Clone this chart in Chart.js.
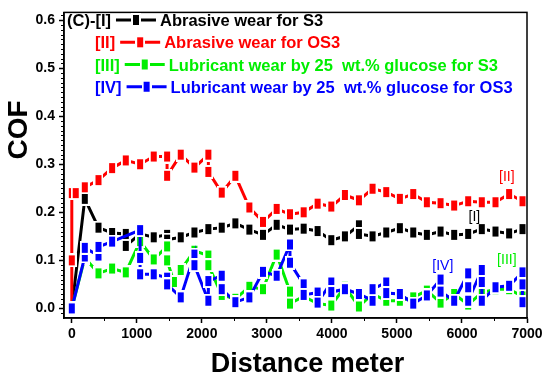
<!DOCTYPE html>
<html><head><meta charset="utf-8">
<script src="https://cdn.jsdelivr.net/npm/chart.js@4/dist/chart.umd.min.js"></script>
<style>html,body{margin:0;padding:0;background:#fff;}canvas{display:block;}</style>
</head><body>
<canvas id="c" width="550" height="381"></canvas>
<script>
// ---- data ----
const distS3Abrasive = [0,200,410,620,830,830,1050,1260,1465,1465,1675,1885,2100,2305,2515,2730,2940,3150,3355,3565,3780,3990,4200,4415,4415,4625,4835,5045,5250,5460,5670,5880,6095,6305,6515,6725,6930];
const cofS3Abrasive  = [0.000,0.228,0.168,0.157,0.155,0.130,0.155,0.148,0.153,0.143,0.148,0.158,0.165,0.168,0.177,0.164,0.153,0.174,0.164,0.166,0.161,0.142,0.150,0.173,0.155,0.150,0.158,0.167,0.158,0.153,0.160,0.153,0.155,0.165,0.160,0.156,0.165];

const distOS3Abrasive = [0,0,0,60,200,410,620,830,1050,1260,1465,1465,1675,1885,2100,2100,2305,2515,2730,2940,3150,3355,3565,3780,3990,4200,4415,4625,4835,5045,5250,5460,5670,5880,6095,6305,6515,6725,6930];
const cofOS3Abrasive  = [0.000,0.100,0.240,0.240,0.252,0.267,0.292,0.308,0.300,0.316,0.316,0.276,0.320,0.293,0.320,0.284,0.241,0.276,0.210,0.180,0.207,0.196,0.200,0.218,0.212,0.236,0.225,0.249,0.242,0.228,0.238,0.221,0.219,0.214,0.223,0.221,0.221,0.238,0.223];

const distS3Lubricant = [0,200,410,620,830,1050,1260,1465,1465,1570,1675,1885,2100,2100,2305,2515,2730,2940,3150,3355,3355,3565,3780,3990,4200,4415,4625,4835,5045,5250,5460,5670,5880,6095,6305,6515,6725,6930];
const cofS3Lubricant  = [0.000,0.105,0.073,0.083,0.075,0.140,0.102,0.129,0.100,0.055,0.080,0.120,0.110,0.090,0.028,0.020,0.045,0.040,0.112,0.035,0.010,0.025,0.010,0.006,0.045,0.004,0.030,0.016,0.016,0.023,0.037,0.012,0.030,0.008,0.033,0.040,0.040,0.025];

const distOS3Lubricant = [0,200,200,410,410,620,1050,1050,1050,1260,1465,1465,1675,1885,1885,2100,2100,2305,2305,2515,2730,2940,3150,3355,3355,3565,3565,3780,3780,3990,3990,4200,4415,4625,4625,4835,4835,5045,5250,5460,5670,5670,5880,6095,6095,6095,6305,6305,6305,6515,6725,6930,6930,6930];
const cofOS3Lubricant  = [0.000,0.108,0.126,0.110,0.128,0.139,0.163,0.105,0.071,0.071,0.064,0.050,0.023,0.112,0.090,0.016,0.057,0.068,0.040,0.013,0.023,0.076,0.068,0.133,0.095,0.050,0.028,0.033,0.012,0.054,0.034,0.040,0.030,0.016,0.040,0.054,0.032,0.030,0.010,0.027,0.060,0.035,0.016,0.073,0.044,0.016,0.080,0.055,0.016,0.044,0.047,0.075,0.050,0.013];

const xTickValues = [0,1000,2000,3000,4000,5000,6000,7000];
const yTickValues = [0,0.1,0.2,0.3,0.4,0.5,0.6];
const seriesTags  = ['[I]','[II]','[III]','[IV]'];
const seriesNames = ['Abrasive wear for S3','Abrasive wear for OS3','Lubricant wear by 25  wt.% glucose for S3','Lubricant wear by 25  wt.% glucose for OS3'];
const legendPrefix = '(C)-';
const xTitle = 'Distance meter';
const yTitle = 'COF';
// in-plot tag labels, placed at data coordinates
const tagX = [6190, 6690, 6690, 5705];
const tagY = [0.189, 0.273, 0.101, 0.088];

// ---- styles ----
const COLORS = ['#000000', '#ff0000', '#00ee00', '#0000ff'];
const FONT = '"Liberation Sans", Arial, Helvetica, sans-serif';

function makeMarker(color) {
  const c = document.createElement('canvas');
  c.width = 10; c.height = 14;
  const g = c.getContext('2d');
  g.fillStyle = '#ffffff'; g.fillRect(0, 0, 10, 14);
  g.fillStyle = color; g.fillRect(2, 2, 6, 10);
  return c;
}
const MARKERS = COLORS.map(makeMarker);

function pts(xs, ys) { return xs.map((x, i) => ({ x: x, y: ys[i] })); }

const seriesData = [
  pts(distS3Abrasive, cofS3Abrasive),
  pts(distOS3Abrasive, cofOS3Abrasive),
  pts(distS3Lubricant, cofS3Lubricant),
  pts(distOS3Lubricant, cofOS3Lubricant)
];
const drawOrder = [3, 2, 1, 0];

const datasets = seriesData.map((d, i) => ({
  label: seriesTags[i] + ' ' + seriesNames[i],
  data: d,
  borderColor: COLORS[i],
  backgroundColor: COLORS[i],
  borderWidth: 3,
  pointStyle: MARKERS[i],
  pointRadius: 4,
  pointHoverRadius: 4,
  tension: 0,
  fill: false,
  order: drawOrder[i]
}));

const decorPlugin = {
  id: 'decor',
  afterDraw(chart) {
    const ctx = chart.ctx;
    const a = chart.chartArea;
    const xs = chart.scales.x, ys = chart.scales.y;
    ctx.save();
    // frame
    ctx.strokeStyle = '#000'; ctx.lineWidth = 1.5;
    ctx.strokeRect(a.left, a.top, a.right - a.left, a.bottom - a.top);
    // minor ticks
    ctx.lineWidth = 1;
    ctx.beginPath();
    for (let v = 500; v < 7000; v += 1000) {
      const p = Math.round(xs.getPixelForValue(v)) + 0.5;
      ctx.moveTo(p, a.bottom); ctx.lineTo(p, a.bottom + 3);
    }
    for (let k = -1; k <= 61; k++) {
      if (k % 10 === 0) continue;
      const p = Math.round(ys.getPixelForValue(k / 100)) + 0.5;
      if (p < a.top || p > a.bottom) continue;
      ctx.moveTo(a.left, p); ctx.lineTo(a.left - 3, p);
    }
    ctx.stroke();

    // legend
    const rowX = [67, 95, 95, 95];
    const rowBase = [26, 48.3, 70.5, 92.7];
    ctx.font = 'bold 16.5px ' + FONT;
    ctx.textAlign = 'left'; ctx.textBaseline = 'alphabetic';
    for (let i = 0; i < 4; i++) {
      const tag = (i === 0 ? legendPrefix : '') + seriesTags[i];
      ctx.fillStyle = COLORS[i];
      ctx.fillText(tag, rowX[i], rowBase[i]);
      const sx = rowX[i] + ctx.measureText(tag).width + 5;
      const sy = rowBase[i] - 6;
      ctx.strokeStyle = COLORS[i]; ctx.lineWidth = 3;
      ctx.beginPath(); ctx.moveTo(sx, sy); ctx.lineTo(sx + 40, sy); ctx.stroke();
      const m = MARKERS[i];
      ctx.drawImage(m, sx + 20 - m.width / 2, sy - m.height / 2);
      ctx.fillText(seriesNames[i], sx + 44, rowBase[i]);
    }

    // in-plot tags
    ctx.font = '14px ' + FONT;
    ctx.textAlign = 'center'; ctx.textBaseline = 'middle';
    for (let i = 0; i < 4; i++) {
      ctx.fillStyle = COLORS[i];
      ctx.fillText(seriesTags[i], xs.getPixelForValue(tagX[i]), ys.getPixelForValue(tagY[i]));
    }

    // axis titles
    ctx.fillStyle = '#000';
    ctx.font = 'bold 27px ' + FONT;
    ctx.textAlign = 'center'; ctx.textBaseline = 'alphabetic';
    ctx.fillText(xTitle, 307.5, 372);
    ctx.font = 'bold 28px ' + FONT;
    ctx.translate(27, 130); ctx.rotate(-Math.PI / 2);
    ctx.fillText(yTitle, 0, 0);
    ctx.restore();
  }
};

new Chart(document.getElementById('c'), {
  type: 'line',
  data: { datasets: datasets },
  options: {
    responsive: false,
    animation: false,
    devicePixelRatio: 1,
    layout: { padding: { left: 0, top: 7, right: 23, bottom: 0 } },
    plugins: { legend: { display: false }, tooltip: { enabled: false } },
    scales: {
      x: {
        type: 'linear', min: -120, max: 7000,
        afterBuildTicks: s => { s.ticks = xTickValues.map(v => ({ value: v })); },
        afterFit: s => { s.height = 63; },
        ticks: { color: '#000', font: { family: FONT, size: 14, weight: 'bold' }, padding: 3, maxRotation: 0, autoSkip: false, callback: v => String(v) },
        grid: { drawOnChartArea: false, drawTicks: true, tickLength: 5, tickWidth: 1.5, tickColor: '#000' },
        border: { display: true, color: '#000', width: 1.5 }
      },
      y: {
        type: 'linear', min: -0.02, max: 0.616,
        afterBuildTicks: s => { s.ticks = yTickValues.map(v => ({ value: v })); },
        afterFit: s => { s.width = 64; },
        ticks: { color: '#000', font: { family: FONT, size: 14, weight: 'bold' }, padding: 4, autoSkip: false, callback: v => Number(v).toFixed(1) },
        grid: { drawOnChartArea: false, drawTicks: true, tickLength: 5, tickWidth: 1.5, tickColor: '#000' },
        border: { display: true, color: '#000', width: 1.5 }
      }
    }
  },
  plugins: [decorPlugin]
});
</script>
</body></html>
